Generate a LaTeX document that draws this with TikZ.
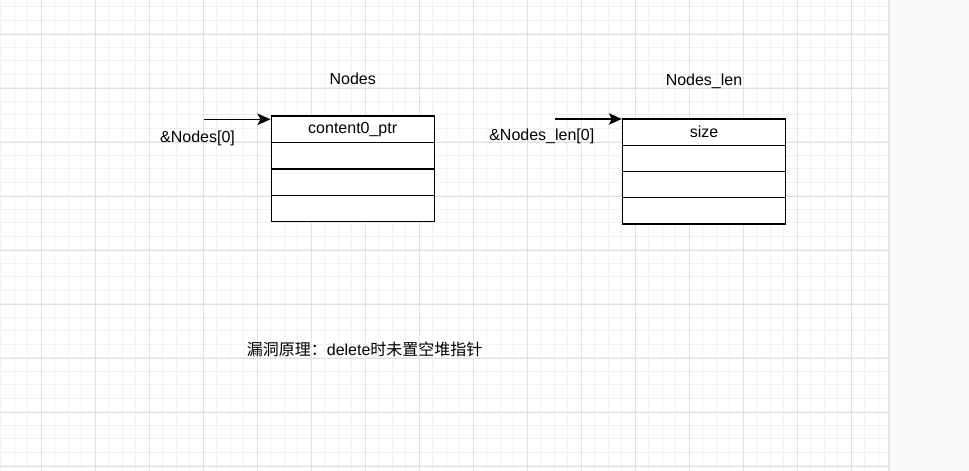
\documentclass[tikz,border=0pt]{standalone}
\usepackage{fontspec}
\setmainfont{Liberation Sans}
\newfontfamily\cjk{Noto Sans CJK SC}
\usetikzlibrary{arrows.meta}
\definecolor{gridminor}{HTML}{F1F1F1}
\definecolor{gridmajor}{HTML}{E1E1E1}
\definecolor{panelbg}{HTML}{F9F9F9}
\definecolor{panelline}{HTML}{E4E4E4}
\newcommand{\FT}{\fontsize{16}{19}\selectfont}

\begin{document}
\begin{tikzpicture}[x=1pt,y=-1pt]
\tikzstyle{texto}=[draw=none,fill=none,black,font=\FT,inner sep=0pt]
\tikzstyle{cell}=[draw=black,line width=1.4pt,fill=white,minimum width=163pt,inner sep=0pt,font=\FT]
\tikzstyle{arr}=[black,line width=1.4pt,-{Stealth[length=13pt,width=11.5pt,inset=3pt]}]

\useasboundingbox (0,0) rectangle (969,471);
\fill[white] (0,0) rectangle (969,471);

% grid
\foreach \x in {0.8,14.3,...,888} \draw[gridminor,line width=1pt] (\x,0) -- (\x,471);
\foreach \y in {6.7,20.2,...,471} \draw[gridminor,line width=1pt] (0,\y) -- (888,\y);
\foreach \x in {41.3,95.3,...,888} \draw[gridmajor,line width=1pt] (\x,0) -- (\x,471);
\foreach \y in {34,88,...,471} \draw[gridmajor,line width=1pt] (0,\y) -- (888,\y);

% right panel
\fill[panelbg] (889,0) rectangle (969,471);
\draw[panelline,line width=1.5pt] (889,0) -- (889,471);

% Nodes
\node[texto] (tn) at (352.7,78.3) {Nodes};
\node[cell,minimum height=26.4pt] (n0) at (352.7,129.2) {content0\_ptr};
\node[cell,minimum height=26.4pt] (n1) at (352.7,155.6) {};
\node[cell,minimum height=26.4pt] (n2) at (352.7,182.0) {};
\node[cell,minimum height=26.4pt] (n3) at (352.7,208.4) {};

\coordinate (pn) at (204,119.3);
\draw[arr] (pn) -- (n0.west |- pn);
\node[texto] (ln) at (197.5,138.7) {\&Nodes[0]};

% Nodes_len
\node[texto] (tl) at (704,81.7) {Nodes\_len};
\node[cell,minimum height=26.25pt] (s0) at (704,132.1) {size};
\node[cell,minimum height=26.25pt] (s1) at (704,158.4) {};
\node[cell,minimum height=26.25pt] (s2) at (704,184.6) {};
\node[cell,minimum height=26.25pt] (s3) at (704,210.9) {};

\coordinate (ps) at (555,119);
\draw[arr] (ps) -- (s0.west |- ps);
\node[texto] (ls) at (541.8,136) {\&Nodes\_len[0]};

% note
\node[texto,anchor=west] (note) at (246.7,349.3) {{\cjk 漏洞原理：}delete{\cjk 时未置空堆指针}};
\end{tikzpicture}
\end{document}
